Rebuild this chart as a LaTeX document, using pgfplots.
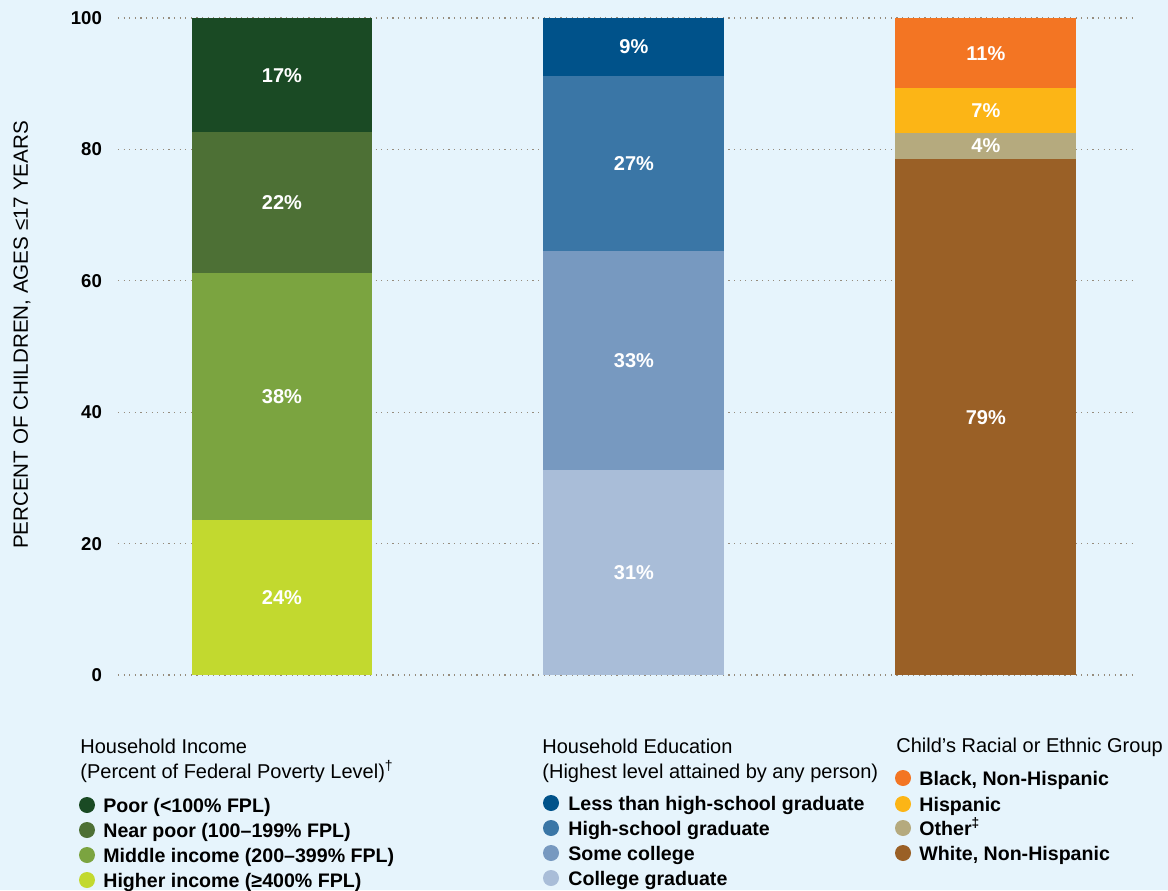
\documentclass[border=0pt]{standalone}
\usepackage{fontspec}
\setmainfont{Liberation Sans}
\usepackage{pgfplots}
\pgfplotsset{compat=1.18}
\definecolor{bg}{RGB}{230,244,252}
\definecolor{poor}{RGB}{26,74,36}
\definecolor{nearpoor}{RGB}{77,112,53}
\definecolor{middleinc}{RGB}{123,164,64}
\definecolor{higher}{RGB}{194,217,47}
\definecolor{lesshs}{RGB}{0,82,138}
\definecolor{hsgrad}{RGB}{58,118,166}
\definecolor{somecol}{RGB}{119,153,192}
\definecolor{colgrad}{RGB}{169,189,216}
\definecolor{blackc}{RGB}{243,117,35}
\definecolor{hisp}{RGB}{252,181,22}
\definecolor{otherc}{RGB}{181,170,126}
\definecolor{whitec}{RGB}{154,96,38}
\definecolor{gridc}{RGB}{150,140,125}
\begin{document}
\begin{tikzpicture}
\path[use as bounding box, fill=bg] (-59pt,-107.5pt) rectangle (525pt,337.5pt);
\pgfplotsset{common/.style={at={(0,0)}, anchor=south west, scale only axis,
  width=507.5pt, height=328.5pt, xmin=-0.466, xmax=2.418, ymin=0, ymax=100}}
\begin{axis}[common,
  ybar stacked, bar width=0.514,
  axis line style={draw=none},
  xtick=\empty, ytick={0,20,...,100}, major tick length=0pt,
  ymajorgrids, grid style={gridc, line width=0.6pt, dash pattern=on 0.6pt off 2.2pt},
  /pgf/number format/assume math mode=true,
  yticklabel style={font=\bfseries\fontsize{9.3}{10}\selectfont, xshift=-4.5pt},
  ylabel={PERCENT OF CHILDREN, AGES ≤17 YEARS},
  every axis y label/.style={at={(axis description cs:-0.0946,0.5175)}, rotate=90, anchor=center,
    font=\fontsize{10.3}{12}\selectfont},
]
\addplot[fill=higher, draw=none] coordinates {(0,23.6) (1,0) (2,0)};
\addplot[fill=middleinc, draw=none] coordinates {(0,37.6) (1,0) (2,0)};
\addplot[fill=nearpoor, draw=none] coordinates {(0,21.4) (1,0) (2,0)};
\addplot[fill=poor, draw=none] coordinates {(0,17.4) (1,0) (2,0)};
\addplot[fill=colgrad, draw=none] coordinates {(0,0) (1,31.2) (2,0)};
\addplot[fill=somecol, draw=none] coordinates {(0,0) (1,33.3) (2,0)};
\addplot[fill=hsgrad, draw=none] coordinates {(0,0) (1,26.7) (2,0)};
\addplot[fill=lesshs, draw=none] coordinates {(0,0) (1,8.8) (2,0)};
\addplot[fill=whitec, draw=none] coordinates {(0,0) (1,0) (2,78.5)};
\addplot[fill=otherc, draw=none] coordinates {(0,0) (1,0) (2,4.0)};
\addplot[fill=hisp, draw=none] coordinates {(0,0) (1,0) (2,6.8)};
\addplot[fill=blackc, draw=none] coordinates {(0,0) (1,0) (2,10.7)};
\end{axis}
\begin{axis}[common, hide axis]
\addplot[draw=none, mark=none, nodes near coords, point meta=explicit symbolic,
  every node near coord/.append style={anchor=center, text=white, font=\bfseries\fontsize{10}{11}\selectfont}]
  coordinates {
  (0,11.8) [24\%] (0,42.4) [38\%] (0,71.9) [22\%] (0,91.3) [17\%]
  (1,15.6) [31\%] (1,47.85) [33\%] (1,77.85) [27\%] (1,95.6) [9\%]
  (2,39.25) [79\%] (2,80.5) [4\%] (2,85.9) [7\%] (2,94.65) [11\%]
  };
\end{axis}
% legend
\begin{scope}[every node/.style={anchor=base west, inner sep=0pt, font=\fontsize{10}{11}\selectfont}]
\node at (-19pt,-39pt) {Household Income};
\node at (-19pt,-51.5pt) {(Percent of Federal Poverty Level)\textsuperscript{†}};
\node at (212pt,-39pt) {Household Education};
\node at (212pt,-51.5pt) {(Highest level attained by any person)};
\node at (389pt,-38.5pt) {Child’s Racial or Ethnic Group};
\end{scope}
\begin{scope}[every node/.style={anchor=base west, inner sep=0pt, font=\bfseries\fontsize{9.8}{11}\selectfont}]
\fill[poor] (-15.5pt,-65pt) circle (4pt);
\node at (-7.5pt,-68.5pt) {Poor (<100\% FPL)};
\fill[nearpoor] (-15.5pt,-77.5pt) circle (4pt);
\node at (-7.5pt,-81pt) {Near poor (100–199\% FPL)};
\fill[middleinc] (-15.5pt,-90pt) circle (4pt);
\node at (-7.5pt,-93.5pt) {Middle income (200–399\% FPL)};
\fill[higher] (-15.5pt,-102.5pt) circle (4pt);
\node at (-7.5pt,-106pt) {Higher income (≥400\% FPL)};
\fill[lesshs] (216.5pt,-64pt) circle (4pt);
\node at (225pt,-67.5pt) {Less than high-school graduate};
\fill[hsgrad] (216.5pt,-76.5pt) circle (4pt);
\node at (225pt,-80pt) {High-school graduate};
\fill[somecol] (216.5pt,-89pt) circle (4pt);
\node at (225pt,-92.5pt) {Some college};
\fill[colgrad] (216.5pt,-101.5pt) circle (4pt);
\node at (225pt,-105pt) {College graduate};
\fill[blackc] (392.5pt,-51.5pt) circle (4pt);
\node at (400.5pt,-55pt) {Black, Non-Hispanic};
\fill[hisp] (392.5pt,-64.5pt) circle (4pt);
\node at (400.5pt,-68pt) {Hispanic};
\fill[otherc] (392.5pt,-76.5pt) circle (4pt);
\node at (400.5pt,-80pt) {Other\textsuperscript{‡}};
\fill[whitec] (392.5pt,-89pt) circle (4pt);
\node at (400.5pt,-92.5pt) {White, Non-Hispanic};
\end{scope}
\end{tikzpicture}
\end{document}
